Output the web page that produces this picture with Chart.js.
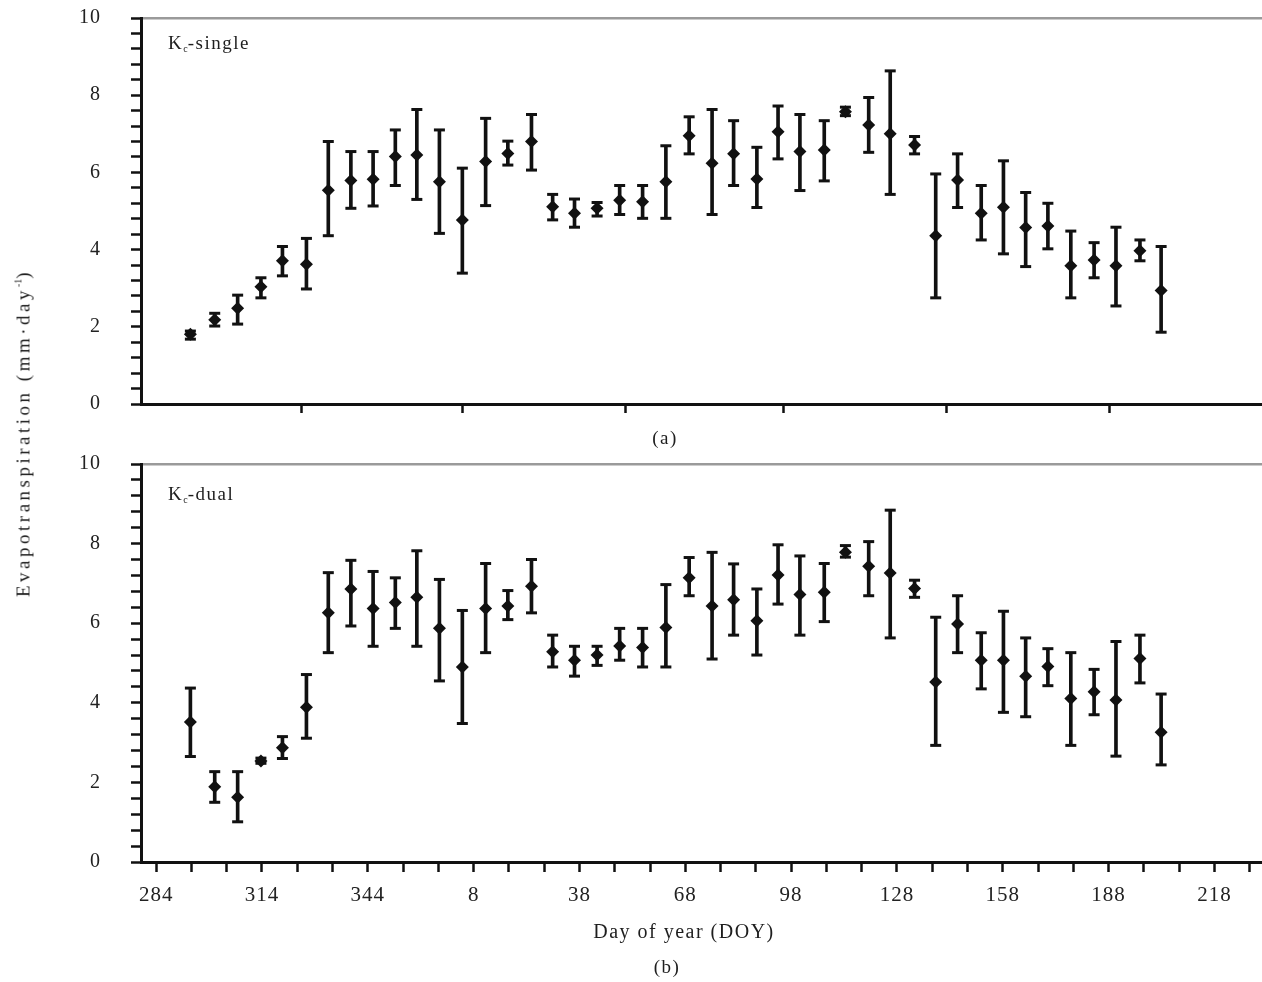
<!DOCTYPE html>
<html>
<head>
<meta charset="utf-8">
<script src="https://cdn.jsdelivr.net/npm/chart.js@4.4.1/dist/chart.umd.min.js"></script>
<style>
  html, body { margin: 0; padding: 0; background: #fff; }
  #fig { position: relative; width: 1262px; height: 982px; overflow: hidden;
         font-family: "Liberation Serif", "DejaVu Serif", serif; color: #1e1e1e; }
  #fig canvas { position: absolute; left: 0; }
  .lbl { position: absolute; white-space: nowrap; font-size: 19px; line-height: 1; letter-spacing: 1.5px; }
  .lbl sub { font-size: 10px; vertical-align: -3px; letter-spacing: 0; }
  .lbl sup { font-size: 10px; vertical-align: 8px; letter-spacing: 0; }
  .mid { transform: translateX(-50%); }
  #ytitle { left: 23px; top: 433px; font-size: 19px; letter-spacing: 3.5px;
            transform: translate(-50%, -50%) rotate(-90deg); }
</style>
</head>
<body>
<div id="fig">
  <canvas id="single" width="1262" height="430" style="top:0"></canvas>
  <canvas id="dual" width="1262" height="542" style="top:440px"></canvas>

  <div class="lbl" style="left:168px; top:33px">K<sub>c</sub>-single</div>
  <div class="lbl" style="left:168px; top:484px">K<sub>c</sub>-dual</div>
  <div class="lbl mid" style="left:665px; top:428px">(a)</div>
  <div class="lbl mid" style="left:684px; top:921px; font-size:20px; letter-spacing:1.5px">Day of year (DOY)</div>
  <div class="lbl mid" style="left:667px; top:957px">(b)</div>
  <div class="lbl" id="ytitle">Evapotranspiration (mm·day<sup>-1</sup>)</div>
</div>

<script>
// sampling days, counted from DOY 284 (2004 is a leap year, so DOY wraps after 366)
const dayIndex = [9.7, 16.6, 23.1, 29.7, 35.8, 42.6, 48.8, 55.2, 61.5, 67.8, 73.9,
                  80.3, 86.8, 93.4, 99.7, 106.4, 112.4, 118.6, 125.0, 131.4, 137.9, 144.5,
                  151.1, 157.6, 163.7, 170.3, 176.3, 182.5, 189.4, 195.4, 202.0, 208.1, 215.0,
                  221.0, 227.2, 233.9, 240.2, 246.5, 252.8, 259.3, 265.9, 272.1, 278.9, 284.9];

// (a) Kc-single, mm/day
const singleMean = [1.81, 2.18, 2.48, 3.04, 3.71, 3.62, 5.54, 5.79, 5.82, 6.41, 6.45,
                    5.76, 4.77, 6.28, 6.49, 6.80, 5.11, 4.94, 5.07, 5.28, 5.24, 5.76,
                    6.95, 6.24, 6.48, 5.83, 7.05, 6.54, 6.58, 7.57, 7.23, 7.00, 6.71,
                    4.36, 5.80, 4.94, 5.10, 4.57, 4.61, 3.58, 3.73, 3.58, 3.97, 2.94];
const singleLow = [1.68, 2.02, 2.07, 2.75, 3.32, 2.98, 4.36, 5.07, 5.13, 5.66, 5.30,
                   4.42, 3.39, 5.14, 6.19, 6.06, 4.77, 4.58, 4.87, 4.91, 4.81, 4.81,
                   6.48, 4.91, 5.66, 5.09, 6.35, 5.53, 5.78, 7.47, 6.52, 5.43, 6.48,
                   2.75, 5.09, 4.25, 3.89, 3.56, 4.02, 2.75, 3.27, 2.54, 3.71, 1.86];
const singleHigh = [1.89, 2.35, 2.82, 3.27, 4.08, 4.29, 6.80, 6.54, 6.54, 7.10, 7.63,
                    7.10, 6.11, 7.40, 6.81, 7.50, 5.43, 5.31, 5.22, 5.66, 5.66, 6.69,
                    7.44, 7.63, 7.34, 6.65, 7.72, 7.50, 7.34, 7.69, 7.94, 8.63, 6.93,
                    5.96, 6.48, 5.66, 6.30, 5.48, 5.20, 4.48, 4.18, 4.58, 4.25, 4.08];

// (b) Kc-dual, mm/day
const dualMean = [3.52, 1.89, 1.63, 2.54, 2.87, 3.89, 6.26, 6.86, 6.37, 6.52, 6.65,
                  5.87, 4.90, 6.37, 6.43, 6.93, 5.28, 5.07, 5.20, 5.43, 5.39, 5.89,
                  7.14, 6.43, 6.59, 6.06, 7.21, 6.72, 6.78, 7.78, 7.43, 7.26, 6.87,
                  4.52, 5.98, 5.07, 5.07, 4.67, 4.91, 4.11, 4.28, 4.07, 5.11, 3.26];
const dualLow = [2.65, 1.50, 1.01, 2.48, 2.60, 3.11, 5.26, 5.93, 5.42, 5.87, 5.42,
                 4.55, 3.48, 5.26, 6.09, 6.26, 4.90, 4.67, 4.94, 5.07, 4.90, 4.90,
                 6.69, 5.10, 5.70, 5.20, 6.48, 5.70, 6.04, 7.66, 6.69, 5.63, 6.65,
                 2.93, 5.26, 4.35, 3.76, 3.65, 4.43, 2.93, 3.70, 2.66, 4.50, 2.44];
const dualHigh = [4.37, 2.27, 2.27, 2.61, 3.15, 4.71, 7.27, 7.58, 7.30, 7.14, 7.82,
                  7.10, 6.32, 7.50, 6.82, 7.60, 5.70, 5.42, 5.42, 5.87, 5.87, 6.97,
                  7.65, 7.78, 7.49, 6.86, 7.97, 7.69, 7.50, 7.95, 8.05, 8.84, 7.08,
                  6.15, 6.69, 5.76, 6.30, 5.63, 5.36, 5.26, 4.84, 5.54, 5.70, 4.22];

// unlabeled tick marks on the upper panel's axis
const topTickDays = [41.2, 86.8, 133.1, 177.9, 224.1, 270.4];

const FONT = '"Liberation Serif", "DejaVu Serif", serif';
const INK = '#111';
const X_MIN = -4.3, X_MAX = 313.5;

function doyLabel(v) {
  if (v % 30 !== 0) return '';
  return String(((284 + v - 1) % 366) + 1);
}

function yLabel(v) {
  return Math.abs(v % 2) < 1e-6 ? String(Math.round(v)) : '';
}

function errorBars(mean, low, high) {
  return [
    {
      type: 'scatter',
      data: dayIndex.map((d, i) => ({x: d, y: mean[i]})),
      pointStyle: 'rectRot',
      pointRadius: 6.5,
      backgroundColor: INK,
      borderWidth: 0,
      order: 0
    },
    {
      type: 'scatter',
      data: dayIndex.flatMap((d, i) => [{x: d, y: low[i]}, {x: d, y: high[i]}]),
      pointStyle: 'line',
      pointRadius: 5.5,
      borderColor: INK,
      borderWidth: 3,
      order: 1
    },
    {
      type: 'bar',
      data: dayIndex.map((d, i) => ({x: d, y: [low[i], high[i]]})),
      backgroundColor: INK,
      borderWidth: 0,
      barThickness: 3,
      order: 2
    }
  ];
}

const spacedText = {
  id: 'spacedText',
  beforeDraw(chart) { chart.ctx.letterSpacing = '1px'; }
};

// keep tick-label overflow from shrinking the plot area
function noPadding(s) {
  s.paddingTop = 0; s.paddingBottom = 0; s.paddingLeft = 0; s.paddingRight = 0;
}

function makeChart(id, mean, low, high, opt) {
  const xScale = {
    type: 'linear',
    position: 'bottom',
    min: X_MIN,
    max: X_MAX,
    offset: false,
    grid: {offset: false, drawOnChartArea: false, tickLength: opt.xTick, tickColor: INK, tickWidth: 2.5},
    border: {color: INK, width: 3},
    afterFit: s => { s.height = opt.xHeight; noPadding(s); }
  };
  if (opt.labels) {
    xScale.ticks = {
      stepSize: 10, includeBounds: false, autoSkip: false, maxRotation: 0, minRotation: 0,
      padding: 11, color: '#222', font: {family: FONT, size: 21}, callback: doyLabel
    };
  } else {
    xScale.ticks = {display: false};
    xScale.afterBuildTicks = s => { s.ticks = topTickDays.map(v => ({value: v})); };
  }

  return new Chart(document.getElementById(id), {
    type: 'scatter',
    data: {datasets: errorBars(mean, low, high)},
    options: {
      responsive: false,
      devicePixelRatio: 1,
      animation: false,
      events: [],
      layout: {autoPadding: false, padding: {top: opt.top, left: 0, right: 0, bottom: 0}},
      plugins: {legend: {display: false}, tooltip: {enabled: false}},
      scales: {
        x: xScale,
        xTop: {
          type: 'linear',
          position: 'top',
          grid: {display: false},
          ticks: {display: false},
          border: {color: '#9a9a9a', width: 2.5},
          afterFit: s => { s.height = 0; noPadding(s); }
        },
        y: {
          type: 'linear',
          min: 0,
          max: 10,
          grid: {drawOnChartArea: false, tickLength: 10, tickColor: INK, tickWidth: 2.5},
          border: {color: INK, width: 3},
          ticks: {
            stepSize: 0.4, autoSkip: false, padding: 30, color: '#222',
            font: {family: FONT, size: 20}, callback: yLabel
          },
          afterFit: s => { s.width = 141; noPadding(s); }
        }
      }
    },
    plugins: [spacedText]
  });
}

makeChart('single', singleMean, singleLow, singleHigh,
          {top: 18, xHeight: 26, xTick: 9, labels: false});
makeChart('dual', dualMean, dualLow, dualHigh,
          {top: 24, xHeight: 120, xTick: 10, labels: true});
</script>
</body>
</html>
